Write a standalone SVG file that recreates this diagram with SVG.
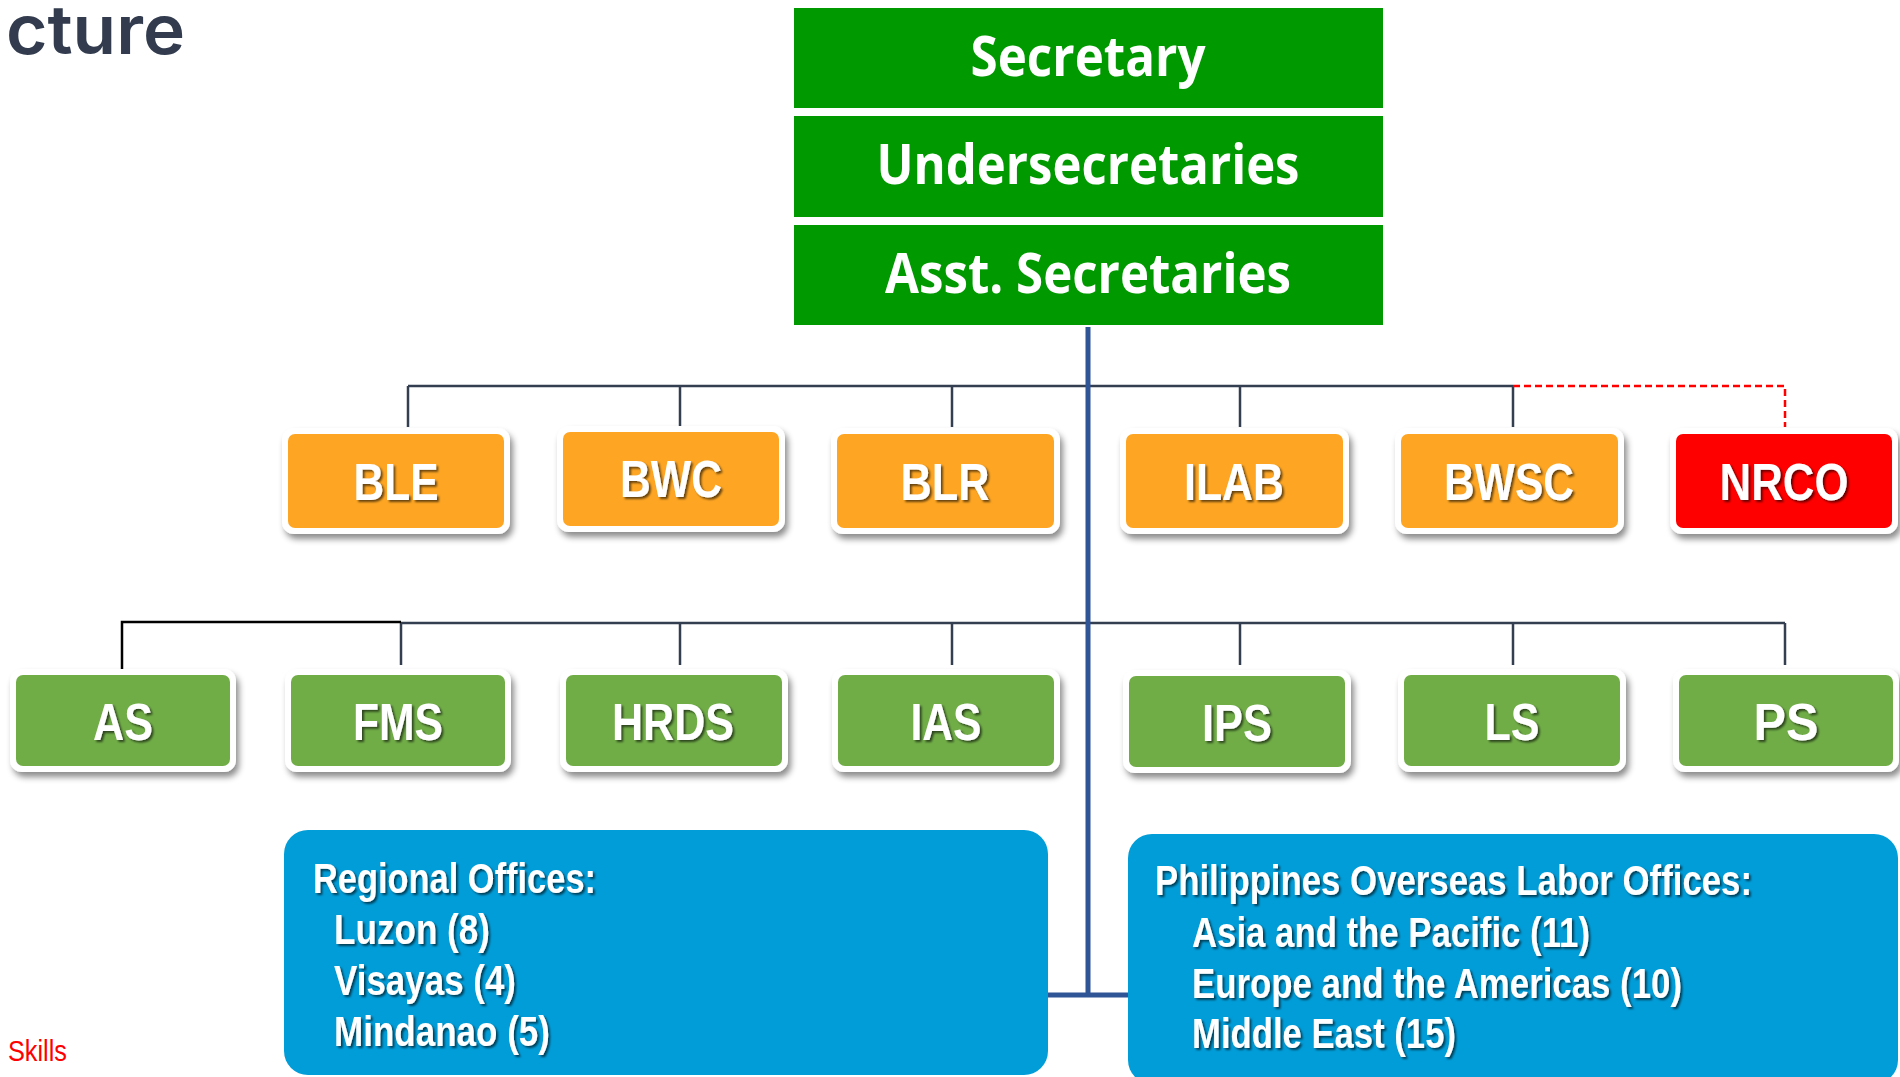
<svg xmlns="http://www.w3.org/2000/svg" width="1900" height="1077" viewBox="0 0 1900 1077">
<defs>
<filter id="ts" x="-10%" y="-20%" width="130%" height="150%"><feDropShadow dx="2" dy="2" stdDeviation="1" flood-color="#000" flood-opacity="0.6"/></filter>
<filter id="bs" x="-10%" y="-20%" width="130%" height="150%"><feDropShadow dx="3" dy="5" stdDeviation="3" flood-color="#000" flood-opacity="0.45"/></filter>
<style>
.lbl{font-family:"Liberation Sans Narrow","Liberation Sans",Arial,sans-serif;font-weight:bold;font-size:52px;fill:#fff;text-anchor:middle;filter:url(#ts)}
.btxt{font-family:"Liberation Sans Narrow","Liberation Sans",Arial,sans-serif;font-weight:bold;font-size:42px;fill:#fff;filter:url(#ts)}
.top{font-family:"Open Sans","Noto Sans",sans-serif;font-weight:bold;font-size:56px;fill:#fff;text-anchor:middle}
.topbox{fill:#009900}
.ring{fill:#fff;filter:url(#bs)}
.org{fill:#fea623}
.red{fill:#ff0000}
.grn{fill:#70ad47}
.blue{fill:#019dd9}
.conn{stroke:#333f50;stroke-width:2.5;fill:none}
</style>
</defs>
<rect width="1900" height="1077" fill="#fff"/>
<text x="6" y="54" font-family="Inter,Lato,sans-serif" font-weight="600" font-size="68" fill="#323c4e" textLength="179" lengthAdjust="spacingAndGlyphs">cture</text>
<text x="8" y="1061" font-family="'Liberation Sans Narrow','Liberation Sans',Arial,sans-serif" font-size="30" fill="#ff0000" textLength="59" lengthAdjust="spacingAndGlyphs">Skills</text>

<g id="connectors">
<path class="conn" d="M408 386H1513M408 386V427M680 386V427M952 386V427M1240 386V427M1513 386V427"/>
<path d="M1513 386H1785V427" stroke="#ff0000" stroke-width="2.5" stroke-dasharray="7 4" fill="none"/>
<path class="conn" d="M401 623H1785M401 623V665M680 623V665M952 623V665M1240 623V665M1513 623V665M1785 623V665"/>
<path d="M122 669V622H401" stroke="#000" stroke-width="2.5" fill="none"/>
<path d="M1088 327V996M1048 995H1128" stroke="#2f5597" stroke-width="5" fill="none"/>
</g>

<g id="secretary"><rect class="topbox" x="794" y="8" width="589" height="100"/><text class="top" x="1088" y="76" textLength="235" lengthAdjust="spacingAndGlyphs">Secretary</text></g>
<g id="undersecretaries"><rect class="topbox" x="794" y="116" width="589" height="101"/><text class="top" x="1088" y="184" textLength="423" lengthAdjust="spacingAndGlyphs">Undersecretaries</text></g>
<g id="asst-secretaries"><rect class="topbox" x="794" y="225" width="589" height="100"/><text class="top" x="1088" y="293" textLength="406" lengthAdjust="spacingAndGlyphs">Asst. Secretaries</text></g>

<g id="ble"><rect class="ring" x="282" y="428" width="228" height="106" rx="12"/><rect class="org" x="288" y="434" width="216" height="94" rx="7"/><text class="lbl" x="396" y="500" textLength="85" lengthAdjust="spacingAndGlyphs">BLE</text></g>
<g id="bwc"><rect class="ring" x="557" y="426" width="228" height="106" rx="12"/><rect class="org" x="563" y="432" width="216" height="94" rx="7"/><text class="lbl" x="671" y="497" textLength="102" lengthAdjust="spacingAndGlyphs">BWC</text></g>
<g id="blr"><rect class="ring" x="831" y="428" width="229" height="106" rx="12"/><rect class="org" x="837" y="434" width="217" height="94" rx="7"/><text class="lbl" x="945" y="500" textLength="89" lengthAdjust="spacingAndGlyphs">BLR</text></g>
<g id="ilab"><rect class="ring" x="1120" y="428" width="229" height="106" rx="12"/><rect class="org" x="1126" y="434" width="217" height="94" rx="7"/><text class="lbl" x="1234" y="500" textLength="100" lengthAdjust="spacingAndGlyphs">ILAB</text></g>
<g id="bwsc"><rect class="ring" x="1395" y="428" width="229" height="106" rx="12"/><rect class="org" x="1401" y="434" width="217" height="94" rx="7"/><text class="lbl" x="1509" y="500" textLength="130" lengthAdjust="spacingAndGlyphs">BWSC</text></g>
<g id="nrco"><rect class="ring" x="1670" y="428" width="228" height="106" rx="12"/><rect class="red" x="1676" y="434" width="216" height="94" rx="7"/><text class="lbl" x="1784" y="500" textLength="129" lengthAdjust="spacingAndGlyphs">NRCO</text></g>

<g id="as"><rect class="ring" x="10" y="669" width="226" height="103" rx="12"/><rect class="grn" x="16" y="675" width="214" height="91" rx="7"/><text class="lbl" x="123" y="740" textLength="60" lengthAdjust="spacingAndGlyphs">AS</text></g>
<g id="fms"><rect class="ring" x="285" y="669" width="226" height="103" rx="12"/><rect class="grn" x="291" y="675" width="214" height="91" rx="7"/><text class="lbl" x="398" y="740" textLength="90" lengthAdjust="spacingAndGlyphs">FMS</text></g>
<g id="hrds"><rect class="ring" x="560" y="669" width="228" height="103" rx="12"/><rect class="grn" x="566" y="675" width="216" height="91" rx="7"/><text class="lbl" x="673" y="740" textLength="122" lengthAdjust="spacingAndGlyphs">HRDS</text></g>
<g id="ias"><rect class="ring" x="832" y="669" width="228" height="103" rx="12"/><rect class="grn" x="838" y="675" width="216" height="91" rx="7"/><text class="lbl" x="946" y="740" textLength="71" lengthAdjust="spacingAndGlyphs">IAS</text></g>
<g id="ips"><rect class="ring" x="1123" y="670" width="228" height="103" rx="12"/><rect class="grn" x="1129" y="676" width="216" height="91" rx="7"/><text class="lbl" x="1237" y="741" textLength="70" lengthAdjust="spacingAndGlyphs">IPS</text></g>
<g id="ls"><rect class="ring" x="1398" y="669" width="228" height="103" rx="12"/><rect class="grn" x="1404" y="675" width="216" height="91" rx="7"/><text class="lbl" x="1512" y="740" textLength="55" lengthAdjust="spacingAndGlyphs">LS</text></g>
<g id="ps"><rect class="ring" x="1673" y="669" width="226" height="103" rx="12"/><rect class="grn" x="1679" y="675" width="214" height="91" rx="7"/><text class="lbl" x="1786" y="740" textLength="65" lengthAdjust="spacingAndGlyphs">PS</text></g>

<g id="regional-offices"><rect class="blue" x="284" y="830" width="764" height="245" rx="24"/>
<text class="btxt" x="313" y="893" textLength="283" lengthAdjust="spacingAndGlyphs">Regional Offices:</text>
<text class="btxt" x="334" y="944" textLength="156" lengthAdjust="spacingAndGlyphs">Luzon (8)</text>
<text class="btxt" x="334" y="995" textLength="182" lengthAdjust="spacingAndGlyphs">Visayas (4)</text>
<text class="btxt" x="334" y="1046" textLength="216" lengthAdjust="spacingAndGlyphs">Mindanao (5)</text></g>
<g id="polo"><rect class="blue" x="1128" y="834" width="770" height="250" rx="24"/>
<text class="btxt" x="1155" y="895" textLength="597" lengthAdjust="spacingAndGlyphs">Philippines Overseas Labor Offices:</text>
<text class="btxt" x="1192" y="947" textLength="398" lengthAdjust="spacingAndGlyphs">Asia and the Pacific (11)</text>
<text class="btxt" x="1192" y="998" textLength="490" lengthAdjust="spacingAndGlyphs">Europe and the Americas (10)</text>
<text class="btxt" x="1192" y="1048" textLength="264" lengthAdjust="spacingAndGlyphs">Middle East (15)</text></g>
</svg>
